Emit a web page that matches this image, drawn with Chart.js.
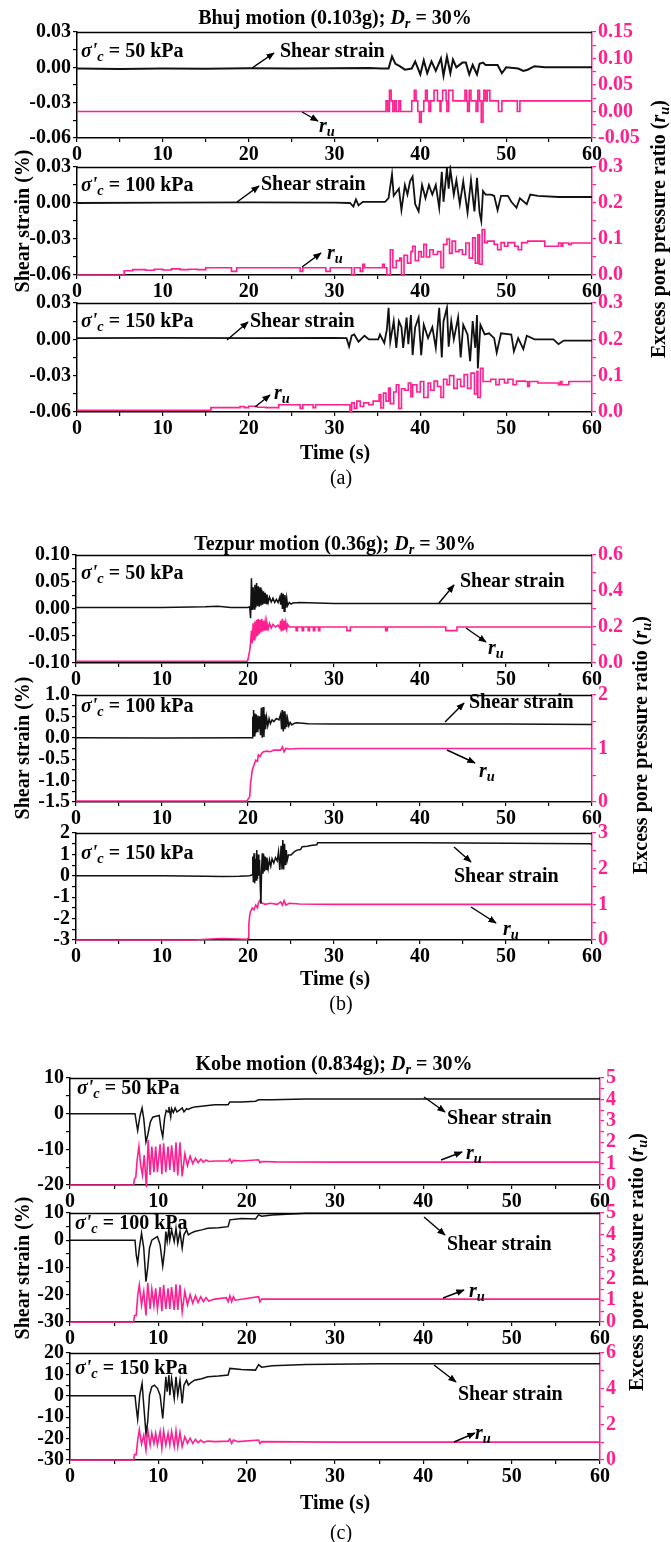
<!DOCTYPE html>
<html><head><meta charset="utf-8">
<script src="https://cdn.jsdelivr.net/npm/chart.js@4.4.0/dist/chart.umd.min.js"></script>
<style>
html,body{margin:0;padding:0;background:#fff;}
#page{position:relative;width:671px;height:1542px;overflow:hidden;background:#fff;font-family:"Liberation Serif","Times New Roman",serif;}
canvas{position:absolute;left:0;z-index:1;}
.t{position:absolute;white-space:nowrap;font-weight:bold;font-size:20px;line-height:1;color:#000;transform:translateY(-50%);z-index:3;}
.c{transform:translate(-50%,-50%);}
.rot{transform:translate(-50%,-50%) rotate(-90deg);}
.n{font-weight:normal;}
i{font-style:italic;}
sub{font-size:0.72em;vertical-align:-0.28em;line-height:0;}
svg{position:absolute;left:0;top:0;z-index:2;}
</style></head>
<body><div id="page"></div>
<script>
// ---------------- DATA (time s, value) ----------------
// (a) Bhuj motion
const bhuj50Strain = [[0,-0.001],[5,-0.0015],[10,-0.001],[15,-0.0012],[20,-0.0008],[25,-0.001],[30,-0.0008],[34,-0.0005],[35.5,-0.001],[36.3,-0.001],[36.7,0.0093],[37.1,0.003],[37.6,0.001],[38.2,-0.002],[39.0,-0.001],[39.4,0.005],[40.0,-0.006],[40.4,0.006],[40.8,-0.005],[41.3,0.005],[41.8,-0.003],[42.4,0.0075],[42.7,-0.007],[43.1,0.009],[43.5,-0.005],[43.8,0.0065],[44.2,0],[44.9,0.004],[45.3,0.004],[45.7,-0.006],[46.1,0.002],[46.6,-0.006],[46.9,0.003],[47.3,0.004],[47.6,0.002],[48.2,0.002],[49.0,0.002],[49.5,-0.005],[50.0,0],[51.4,-0.001],[52.0,-0.003],[52.5,-0.002],[53.3,0.001],[54.5,0],[60,0]];
const bhuj50Ru = [[0,0],[36.0,0.02],[36.2,0],[36.4,0.04],[36.6,0.02],[36.8,0],[37.0,0.02],[37.2,0],[37.5,0.02],[37.7,0],[39.0,0.02],[39.3,0.04],[39.5,0.02],[39.7,0],[39.9,-0.02],[40.1,0],[40.4,0.02],[40.6,0.04],[40.8,0.02],[41.0,0],[41.2,0.02],[41.6,0.04],[42.0,0.02],[42.3,0],[42.4,0.02],[42.6,0.04],[43.0,0.02],[43.1,0],[43.3,0.04],[43.8,0.02],[45.2,0.04],[45.4,0.02],[45.5,0],[45.7,0.04],[45.9,0.02],[46.5,0],[46.7,0.04],[46.9,0.02],[47.1,-0.02],[47.3,0.02],[47.4,0.04],[47.6,0.02],[47.8,0.04],[48.1,0.02],[49.1,0],[49.5,0.02],[51.3,0],[51.6,0.02],[60,0.02]];
const bhuj100Strain = [[0,0],[10,0.0003],[20,0.0005],[30,0.0003],[31.8,0],[32.2,-0.003],[32.5,0.003],[32.8,-0.002],[33.3,0.001],[34.3,0.001],[35.9,0.001],[36.3,0.004],[36.7,0.024],[36.9,0.006],[37.5,0.012],[37.8,-0.006],[38.2,0.015],[38.5,0.007],[38.8,0.018],[39.1,0.022],[39.4,-0.001],[39.8,-0.007],[40.2,0.015],[40.6,0.004],[41.0,0.015],[41.4,0.007],[41.8,0.015],[42.2,-0.004],[42.5,0.026],[42.7,0.001],[43.1,0.029],[43.3,0.012],[43.5,0.028],[43.9,0.007],[44.2,0.019],[44.6,-0.001],[45.0,0.018],[45.5,-0.008],[45.9,0.019],[46.3,-0.007],[46.6,0.021],[46.9,-0.008],[47.1,-0.015],[47.3,0.010],[47.6,0.007],[48.2,0.007],[48.6,0.006],[49.0,-0.006],[49.4,0.006],[50.2,0.006],[50.6,0.001],[51.2,-0.004],[51.6,0.004],[52.4,-0.001],[52.8,0.007],[53.7,0.006],[56.1,0.005],[60,0.005]];
const bhuj100Ru = [[0,0],[5.5,0.012],[6.5,0.015],[8,0.013],[9,0.016],[10,0.014],[11,0.017],[12,0.015],[13,0.016],[14,0.015],[15,0.02],[18,0.01],[18.6,0.02],[26,0.01],[26.3,0.02],[29,0.01],[29.5,0.02],[32,0.0],[32.3,0.02],[33,0.01],[33.3,0.03],[33.5,0.02],[35.6,0.03],[35.8,0.02],[36.1,0],[36.5,0.07],[36.8,0.02],[37.2,0.04],[37.6,0.047],[37.8,0],[38.1,0.055],[38.5,0.033],[38.9,0.065],[39.1,0.08],[39.4,0.04],[39.8,0.065],[40.1,0.05],[40.4,0.085],[40.7,0.05],[41.1,0.07],[41.5,0.057],[42.0,0.065],[42.4,0.02],[42.7,0.085],[43.1,0.1],[43.4,0.06],[43.7,0.094],[44.1,0.065],[44.5,0.07],[44.9,0.057],[45.3,0.089],[45.7,0.047],[46.1,0.103],[46.4,0.033],[46.7,0.112],[46.9,0.03],[47.2,0.126],[47.5,0.09],[47.8,0.094],[48.6,0.085],[49.0,0.07],[49.4,0.09],[49.8,0.08],[50.2,0.09],[51.0,0.08],[51.4,0.07],[51.8,0.09],[52.5,0.094],[54.5,0.08],[56.1,0.089],[56.4,0.08],[56.6,0.089],[57.3,0.085],[57.6,0.089],[60,0.089]];
const bhuj150Strain = [[0,0.001],[10,0.0012],[20,0.001],[30,0.0012],[31.4,0.001],[31.7,-0.006],[32.0,0.003],[32.3,0.004],[32.8,-0.002],[33.5,0.003],[34.0,0],[35.1,0],[35.3,0.004],[35.8,-0.003],[36.1,0.008],[36.3,0.026],[36.5,-0.002],[36.9,0.015],[37.2,-0.007],[37.5,0.015],[37.8,0.01],[38.0,-0.007],[38.4,0.018],[38.6,-0.004],[38.9,0.02],[39.1,-0.013],[39.4,0.01],[39.8,0.018],[40.1,-0.013],[40.4,0.012],[40.9,0.001],[41.4,0.01],[41.8,-0.007],[42.2,0.026],[42.5,-0.015],[42.7,0.015],[43.1,0.026],[43.3,-0.006],[43.6,0.015],[43.9,0],[44.4,0.018],[44.7,-0.015],[45.0,0.012],[45.5,0.004],[45.8,-0.018],[46.1,0.015],[46.4,-0.007],[46.6,0.02],[46.7,-0.024],[47.0,0.012],[47.5,0.004],[48.0,0.005],[48.6,0.001],[48.9,-0.011],[49.4,0.005],[50.6,0.004],[50.9,-0.01],[51.4,0.001],[52.0,-0.008],[52.4,0.003],[53.3,0],[55.5,0],[56.1,-0.004],[56.7,-0.001],[60,-0.001]];
const bhuj150Ru = [[0,0.005],[15.6,0.012],[19,0.015],[19.5,0.012],[20,0.016],[21,0.013],[22,0.012],[23.5,0.02],[26,0.01],[26.3,0.02],[27.5,0.012],[27.8,0.02],[31.8,0],[32.0,0.025],[32.3,0.01],[32.6,0.03],[33,0.015],[33.4,0.025],[34.0,0.02],[34.5,0.03],[35.2,0.048],[35.4,0.011],[35.7,0.052],[36.0,0.03],[36.3,0.066],[36.5,0.023],[36.9,0.055],[37.2,0.075],[37.5,0.01],[37.8,0.064],[38.2,0.06],[38.6,0.08],[38.9,0.042],[39.1,0.075],[39.6,0.055],[40.0,0.084],[40.4,0.04],[40.9,0.08],[41.2,0.06],[41.6,0.085],[42.0,0.07],[42.4,0.04],[42.7,0.09],[43.1,0.075],[43.4,0.1],[43.9,0.065],[44.3,0.09],[44.7,0.07],[45.1,0.103],[45.5,0.065],[45.9,0.107],[46.3,0.05],[46.6,0.112],[46.7,0.04],[47.0,0.12],[47.3,0.084],[48.2,0.09],[48.8,0.075],[49.2,0.09],[49.8,0.08],[50.2,0.09],[50.8,0.075],[51.2,0.085],[52.2,0.084],[52.5,0.07],[52.7,0.084],[53.7,0.08],[56.1,0.075],[56.3,0.084],[56.5,0.075],[57.3,0.084],[60,0.084]];
// (b) Tezpur motion
const tezpur50Strain = [[0,0.003],[5,0.003],[10,0.003],[15,0.004],[16.5,0.005],[18,0.003],[20.0,0.003],[20.2,0.004],[20.3,-0.017],[20.4,0.057],[20.5,-0.002],[20.6,0.04],[20.7,0.0],[20.8,0.045],[20.9,0.003],[21.0,0.048],[21.1,0.005],[21.2,0.042],[21.3,0.004],[21.4,0.04],[21.5,0.006],[21.6,0.036],[21.7,0.008],[21.8,0.033],[21.9,0.01],[22.0,0.03],[22.1,0.01],[22.2,0.027],[22.35,0.012],[22.5,0.022],[22.7,0.013],[22.9,0.02],[23.1,0.012],[23.3,0.018],[23.5,0.012],[23.7,0.022],[23.8,0.008],[23.9,0.03],[24.0,0.0],[24.1,0.028],[24.2,-0.004],[24.3,0.026],[24.4,0.002],[24.5,0.02],[24.6,0.006],[24.8,0.012],[25.0,0.009],[25.2,0.011],[26.0,0.012],[30,0.01],[40,0.01],[50,0.01],[60,0.01]];
const tezpur50Ru = [[0,0.01],[19.9,0.01],[20.0,0.02],[20.2,0.07],[20.3,0.11],[20.4,0.18],[20.5,0.11],[20.6,0.22],[20.7,0.13],[20.8,0.23],[20.9,0.14],[21.0,0.24],[21.1,0.15],[21.2,0.245],[21.3,0.16],[21.4,0.24],[21.5,0.17],[21.6,0.245],[21.7,0.175],[21.8,0.235],[21.9,0.18],[22.0,0.23],[22.1,0.185],[22.2,0.225],[22.35,0.19],[22.5,0.22],[22.7,0.195],[22.9,0.215],[23.2,0.2],[23.5,0.21],[23.7,0.195],[23.8,0.235],[23.9,0.175],[24.0,0.245],[24.1,0.18],[24.2,0.235],[24.3,0.185],[24.4,0.225],[24.5,0.19],[24.6,0.215],[24.8,0.2],[25.6,0.2],[25.6,0.18],[25.75,0.18],[25.75,0.2],[26.3,0.2],[26.3,0.18],[26.45,0.18],[26.45,0.2],[27.0,0.2],[27.0,0.18],[27.15,0.18],[27.15,0.2],[27.6,0.2],[27.6,0.18],[27.75,0.18],[27.75,0.2],[28.2,0.2],[28.2,0.18],[28.35,0.18],[28.35,0.2],[31.5,0.2],[31.5,0.18],[31.9,0.18],[31.9,0.2],[36.0,0.2],[36.0,0.18],[36.2,0.18],[36.2,0.2],[43.0,0.2],[43.0,0.18],[44.3,0.18],[44.3,0.2],[60,0.2]];
const tezpur100Strain = [[0,0],[10,-0.005],[20.0,0],[20.5,0.0],[20.55,0.5],[20.6,0.1],[20.65,0.65],[20.72,0.05],[20.8,0.57],[20.88,0.1],[20.95,0.55],[21.05,0.15],[21.15,0.52],[21.25,0.2],[21.35,0.5],[21.45,0.06],[21.55,0.7],[21.65,0.0],[21.75,0.72],[21.85,0.02],[21.95,0.55],[22.05,0.2],[22.15,0.48],[22.3,0.28],[22.45,0.45],[22.6,0.33],[22.8,0.42],[23.0,0.38],[23.3,0.45],[23.6,0.42],[23.8,0.55],[23.9,0.2],[24.0,0.65],[24.1,0.15],[24.2,0.62],[24.3,0.2],[24.4,0.55],[24.5,0.25],[24.6,0.45],[24.75,0.28],[24.9,0.36],[25.1,0.3],[25.4,0.34],[25.7,0.35],[27,0.33],[30,0.32],[40,0.32],[50,0.32],[60,0.31]];
const tezpur100Ru = [[0,0.02],[19.9,0.02],[20.0,0.05],[20.2,0.1],[20.3,0.35],[20.5,0.6],[20.7,0.69],[20.9,0.78],[21.1,0.76],[21.2,0.88],[21.4,0.85],[21.6,0.91],[21.8,0.94],[22.2,0.95],[22.6,0.94],[23.0,0.97],[23.8,0.97],[24.0,1.03],[24.2,0.94],[24.4,1.0],[24.8,0.99],[26,1.0],[30,1.0],[40,1.0],[50,1.0],[60,1.0]];
const tezpur150Strain = [[0,0],[10,0],[15,-0.02],[17,-0.03],[19,-0.02],[20.2,0],[20.5,0.05],[20.55,0.9],[20.62,-0.3],[20.7,1.05],[20.78,-0.35],[20.86,0.8],[20.94,-0.2],[21.02,1.2],[21.1,-0.15],[21.18,1.0],[21.26,0.0],[21.34,0.75],[21.42,-0.4],[21.5,-1.3],[21.58,0.3],[21.66,1.05],[21.74,0.1],[21.82,1.0],[21.9,0.2],[22.0,0.9],[22.1,0.3],[22.2,0.85],[22.35,0.35],[22.5,0.75],[22.65,0.45],[22.8,0.8],[23.0,0.6],[23.2,0.85],[23.4,0.7],[23.55,1.13],[23.7,0.27],[23.85,1.4],[23.95,0.3],[24.05,1.67],[24.15,0.3],[24.25,1.5],[24.35,0.5],[24.45,1.2],[24.55,0.7],[24.7,0.97],[25.0,0.97],[25.4,1.13],[25.7,1.2],[26.1,1.23],[26.3,1.36],[26.9,1.38],[27.3,1.42],[28.0,1.45],[28.1,1.55],[30.7,1.55],[40,1.54],[50,1.52],[59.8,1.5],[60,1.45]];
const tezpur150Ru = [[0,0],[14,0],[15,0.02],[17,0.04],[19,0.03],[19.9,0.02],[20.0,0.05],[20.1,0.45],[20.2,0.7],[20.3,0.8],[20.5,0.9],[20.7,0.85],[20.9,0.98],[21.1,0.9],[21.2,1.03],[21.4,1.12],[21.6,1.04],[22.0,1.0],[22.6,1.03],[23.4,1.0],[23.8,1.07],[24.0,0.98],[24.2,1.1],[24.4,0.98],[24.8,1.03],[26,1.01],[30,1.0],[40,1.0],[50,1.0],[60,1.0]];
// (c) Kobe motion
const kobe50Strain = [[0,0],[7.36,0],[7.5,-2.3],[7.66,-4.7],[7.9,-0.9],[8.16,1.6],[8.35,-1.4],[8.6,-7.9],[8.8,-6],[9.1,-2.3],[9.37,-1],[9.75,-0.7],[10.1,-0.5],[10.3,-4.2],[10.5,-6.5],[10.7,-1.4],[10.9,0.9],[11.1,0.5],[11.2,1.9],[11.4,-0.9],[11.5,1.4],[11.7,0.3],[11.9,1.6],[12.1,0.5],[12.4,1.0],[12.7,1.6],[12.9,0.5],[13.2,1.4],[13.4,1.2],[13.7,1.6],[14.1,1.9],[14.9,2.1],[15.6,2.3],[16.4,2.5],[17.9,2.5],[18.1,3.3],[19.4,3.3],[21.0,3.5],[21.35,3.9],[22.9,3.9],[26.7,4.1],[40,4.1],[50,4.1],[60,4.1]];
const kobe50Ru = [[0,0],[7.2,0],[7.3,0.3],[7.45,0.35],[7.6,1.17],[7.8,1.8],[8.0,0.93],[8.2,0.47],[8.4,1.4],[8.65,-0.1],[8.85,2.1],[9.07,0.47],[9.26,1.8],[9.5,0.6],[9.7,1.8],[9.9,0.6],[10.2,1.9],[10.4,0.5],[10.6,1.95],[10.85,0.6],[11.1,1.8],[11.3,0.7],[11.5,1.85],[11.8,0.6],[12.0,2.0],[12.2,0.45],[12.45,2.0],[12.7,0.4],[13.0,1.45],[13.3,0.9],[13.6,1.35],[13.9,1.0],[14.2,1.25],[14.5,1.05],[14.8,1.2],[15.1,1.07],[15.4,1.17],[15.7,1.1],[16.4,1.12],[17.9,1.12],[18.1,1.22],[18.3,1.03],[18.5,1.15],[19.4,1.12],[21.35,1.18],[21.5,1.04],[21.7,1.1],[23.3,1.08],[30,1.07],[40,1.07],[50,1.07],[60,1.07]];
const kobe100Strain = [[0,0],[7.36,0],[7.5,-5.4],[7.66,-8.4],[7.85,-2.9],[8.1,2.6],[8.35,-2.9],[8.6,-15.2],[8.8,-10],[9.0,-2.9],[9.26,0],[9.56,0.7],[9.9,1.3],[10.2,-1.7],[10.5,-9.5],[10.7,-4.2],[10.85,3.2],[11.0,-0.5],[11.2,4.4],[11.3,0.1],[11.5,3.8],[11.8,-0.5],[12.0,4.4],[12.2,-1.1],[12.45,3.2],[12.7,-2.9],[12.9,2.0],[13.2,3.8],[13.4,2.0],[13.7,2.6],[14.1,3.2],[14.9,3.8],[15.6,4.4],[16.8,4.6],[17.9,5.0],[18.1,7.5],[19.4,8.0],[21.0,7.8],[21.35,9.3],[21.7,8.8],[22.9,9.3],[26.7,9.9],[40,9.9],[50,9.9],[60,9.9]];
const kobe100Ru = [[0,0],[7.2,0],[7.3,0.3],[7.5,0.3],[7.66,1.2],[7.85,1.7],[8.1,0.78],[8.35,1.4],[8.6,0.3],[8.8,1.8],[9.07,0.6],[9.26,1.5],[9.5,0.75],[9.7,1.55],[9.9,0.6],[10.2,1.6],[10.4,0.5],[10.6,1.7],[10.85,0.6],[11.1,1.55],[11.3,0.6],[11.5,1.6],[11.8,0.55],[12.0,1.73],[12.2,0.55],[12.45,1.7],[12.7,0.47],[13.0,1.4],[13.3,0.78],[13.6,1.25],[13.9,0.86],[14.2,1.2],[14.5,0.9],[14.8,1.16],[15.1,0.93],[15.4,1.12],[15.7,0.96],[16.4,1.05],[17.7,1.12],[17.9,0.93],[18.1,1.2],[18.3,0.93],[18.5,1.16],[18.7,1.0],[21.35,1.16],[21.5,0.93],[21.7,1.05],[30,1.05],[40,1.05],[50,1.05],[60,1.05]];
const kobe150Strain = [[0,0],[7.36,0],[7.5,-5.5],[7.66,-11],[7.9,0.3],[8.16,5.8],[8.35,-4.4],[8.6,-17.6],[8.8,-12],[9.0,0.3],[9.26,4.2],[9.56,5.0],[9.9,3.5],[10.2,0.3],[10.5,-10.6],[10.7,0.3],[10.85,8.9],[11.0,1.9],[11.2,9.7],[11.3,0.3],[11.5,8.1],[11.8,-1.2],[12.0,8.9],[12.2,0.3],[12.45,7.3],[12.7,-3.6],[12.9,5.0],[13.2,7.3],[13.4,5.0],[13.7,6.2],[14.1,7.3],[14.9,8.0],[15.6,8.9],[16.8,9.2],[17.9,9.7],[18.1,12.8],[19.4,12.3],[21.0,12.0],[21.35,14.6],[21.7,13.4],[22.9,14.0],[26.7,14.6],[35,15],[45,15],[60,15]];
const kobe150Ru = [[0,0],[7.2,0],[7.3,0.3],[7.5,0.3],[7.66,1.1],[7.85,1.7],[8.1,0.9],[8.35,1.4],[8.6,0.56],[8.8,1.7],[9.07,0.84],[9.26,1.5],[9.5,0.93],[9.7,1.5],[9.9,0.84],[10.2,1.6],[10.4,0.65],[10.6,1.63],[10.85,0.84],[11.1,1.5],[11.3,0.84],[11.5,1.6],[11.8,0.75],[12.0,1.63],[12.2,0.75],[12.45,1.55],[12.7,0.75],[13.0,1.3],[13.3,0.93],[13.6,1.22],[13.9,0.93],[14.2,1.16],[14.5,0.97],[14.8,1.12],[15.1,0.99],[15.6,1.06],[16.4,1.03],[17.9,1.06],[18.1,1.18],[18.3,0.93],[18.5,1.12],[19,1.03],[21.35,1.12],[21.5,0.92],[21.7,1.03],[30,1.0],[40,1.0],[50,1.0],[60,1.0]];

// ---------------- LAYOUT ----------------
const PINK = '#ff1f8f';
const FONT = '"Liberation Serif", "Times New Roman", serif';
const W = 671, PADT = 14, XH = 30;
const A = {left:77, right:592}, B = {left:76, right:592}, C = {left:70, right:600};
const panels = [
 {g:A, top:32,  bottom:138, strain:bhuj50Strain,  ru:bhuj50Ru,  y:[-0.06,0.03,0.03,2], r:[-0.05,0.15,0.05,2], stepped:true,  lw:2},
 {g:A, top:167, bottom:275, strain:bhuj100Strain, ru:bhuj100Ru, y:[-0.06,0.03,0.03,2], r:[0,0.3,0.1,1], stepped:true, lw:1.8},
 {g:A, top:303, bottom:412, strain:bhuj150Strain, ru:bhuj150Ru, y:[-0.06,0.03,0.03,2], r:[0,0.3,0.1,1], stepped:true, lw:1.8},
 {g:B, top:555, bottom:663, strain:tezpur50Strain,  ru:tezpur50Ru,  y:[-0.10,0.10,0.05,2], r:[0,0.6,0.2,1], stepped:false, lw:1.5},
 {g:B, top:695, bottom:802, strain:tezpur100Strain, ru:tezpur100Ru, y:[-1.5,1.0,0.5,1], r:[0,2,1,0], stepped:false, lw:1.5},
 {g:B, top:833, bottom:940, strain:tezpur150Strain, ru:tezpur150Ru, y:[-3,2,1,0], r:[0,3,1,0], stepped:false, lw:1.5},
 {g:C, top:1078, bottom:1185, strain:kobe50Strain,  ru:kobe50Ru,  y:[-20,10,10,0], r:[0,5,1,0], stepped:false, lw:1.5},
 {g:C, top:1213, bottom:1322, strain:kobe100Strain, ru:kobe100Ru, y:[-30,10,10,0], r:[0,5,1,0], stepped:false, lw:1.5},
 {g:C, top:1353, bottom:1460, strain:kobe150Strain, ru:kobe150Ru, y:[-30,20,10,0], r:[0,6,2,0], stepped:false, lw:1.5}
];

function majorLabel(step, dec){
  return v => {
    const k = v / step;
    if (Math.abs(k - Math.round(k)) > 1e-6) return '';
    const x = Math.abs(v) < 1e-9 ? 0 : v;
    return x.toFixed(dec);
  };
}
const frame = {id:'frame', afterDraw(c){const a=c.chartArea, ctx=c.ctx; ctx.save(); ctx.strokeStyle='#000'; ctx.lineWidth=1.5; ctx.beginPath(); ctx.moveTo(a.left, a.top+0.5); ctx.lineTo(a.right, a.top+0.5); ctx.stroke(); ctx.restore();}};
const tickFont = {family:FONT, size:20, weight:'bold'};

const page = document.getElementById('page');
panels.forEach(p => {
  const cv = document.createElement('canvas');
  const h = PADT + (p.bottom - p.top) + XH;
  cv.width = W; cv.height = h;
  cv.style.top = (p.top - PADT) + 'px';
  cv.style.width = W + 'px'; cv.style.height = h + 'px';
  page.appendChild(cv);
  const L = p.g.left, R = p.g.right;
  new Chart(cv, {
    type:'line',
    data:{datasets:[
      {data:p.strain, yAxisID:'y', borderColor:'#111', borderWidth:p.lw, pointRadius:0, tension:0, clip:{left:0,right:0,top:2,bottom:2}},
      {data:p.ru, yAxisID:'y1', borderColor:PINK, borderWidth:1.6, pointRadius:0, tension:0, stepped:p.stepped, clip:{left:0,right:0,top:2,bottom:3}}
    ]},
    plugins:[frame],
    options:{
      responsive:false, animation:false, devicePixelRatio:1,
      layout:{padding:{top:PADT, left:0, right:0, bottom:0}},
      plugins:{legend:{display:false}, tooltip:{enabled:false}},
      scales:{
        x:{type:'linear', min:0, max:60, afterFit:s=>{s.height=XH;},
           ticks:{stepSize:5, autoSkip:false, maxRotation:0, color:'#000', font:tickFont, padding:1,
                  callback:v => (Math.abs(v%10)<1e-9 ? String(v) : '')},
           grid:{drawOnChartArea:false, color:'#000', tickLength:4, lineWidth:1.2},
           border:{color:'#000', width:1.5}},
        y:{type:'linear', position:'left', min:p.y[0], max:p.y[1], afterFit:s=>{s.width=L;},
           ticks:{stepSize:p.y[2]/2, autoSkip:false, color:'#000', font:tickFont, padding:2, callback:majorLabel(p.y[2], p.y[3])},
           grid:{drawOnChartArea:false, color:'#000', tickLength:4, lineWidth:1.2},
           border:{color:'#000', width:1.5}},
        y1:{type:'linear', position:'right', min:p.r[0], max:p.r[1], afterFit:s=>{s.width=W-R;},
           ticks:{stepSize:p.r[2]/2, autoSkip:false, color:PINK, font:tickFont, padding:2, callback:majorLabel(p.r[2], p.r[3])},
           grid:{drawOnChartArea:false, color:PINK, tickLength:4, lineWidth:1.2},
           border:{color:PINK, width:1.5}}
      }
    }
  });
});

// ---------------- TEXT ----------------
const SIG = v => `<i>σ'</i><sub><i>c</i></sub> = ${v} kPa`;
const RU = `<i>r</i><sub><i>u</i></sub>`;
const texts = [
 ['c', 335, 17,  `Bhuj motion (0.103g); <i>D</i><sub><i>r</i></sub> = 30%`],
 ['c', 335, 543, `Tezpur motion (0.36g); <i>D</i><sub><i>r</i></sub> = 30%`],
 ['c', 334, 1063,`Kobe motion (0.834g); <i>D</i><sub><i>r</i></sub> = 30%`],
 ['l', 81, 50, SIG(50)], ['l', 280, 50, 'Shear strain'], ['l', 319, 125, RU],
 ['l', 81, 184, SIG(100)], ['l', 261, 183, 'Shear strain'], ['l', 327, 252, RU],
 ['l', 81, 320, SIG(150)], ['l', 250, 320, 'Shear strain'], ['l', 274, 392, RU],
 ['l', 81, 572, SIG(50)], ['l', 460, 580, 'Shear strain'], ['l', 488, 647, RU],
 ['l', 81, 705, SIG(100)], ['l', 469, 701, 'Shear strain'], ['l', 479, 770, RU],
 ['l', 81, 852, SIG(150)], ['l', 454, 875, 'Shear strain'], ['l', 503, 928, RU],
 ['l', 77, 1087, SIG(50)], ['l', 447, 1117, 'Shear strain'], ['l', 466, 1152, RU],
 ['l', 75, 1222, SIG(100)], ['l', 447, 1243, 'Shear strain'], ['l', 469, 1290, RU],
 ['l', 75, 1367, SIG(150)], ['l', 458, 1393, 'Shear strain'], ['l', 475, 1432, RU],
 ['c', 335, 452, 'Time (s)'], ['c', 335, 978, 'Time (s)'], ['c', 335, 1502, 'Time (s)'],
 ['cn', 341, 477, '(a)'], ['cn', 341, 1003, '(b)'], ['cn', 341, 1532, '(c)'],
 ['r', 22, 221, 'Shear strain (%)'], ['r', 22, 748, 'Shear strain (%)'], ['r', 22, 1268, 'Shear strain (%)'],
 ['r', 658, 229, `Excess pore pressure ratio (${RU})`], ['r', 640, 745, `Excess pore pressure ratio (${RU})`], ['r', 636, 1262, `Excess pore pressure ratio (${RU})`]
];
texts.forEach(([k,x,y,html]) => {
  const d = document.createElement('div');
  d.className = 't' + (k==='c'?' c':k==='cn'?' c n':k==='r'?' rot':'');
  d.style.left = x + 'px'; d.style.top = y + 'px';
  d.innerHTML = html;
  page.appendChild(d);
});

// ---------------- ARROWS ----------------
const arrows = [
 [252,68,274,53],[302,112,318,121],
 [237,202,259,186],[302,267,321,253],
 [227,340,248,322],[255,407,270,395],
 [439,603,454,585],[466,628,486,642],
 [445,722,464,703],[447,750,475,763],
 [454,847,471,862],[471,907,496,923],
 [424,1097,445,1112],[441,1160,462,1152],
 [424,1217,445,1235],[443,1298,464,1290],
 [434,1365,456,1382],[454,1442,475,1433]
];
let svg = `<svg width="671" height="1542" xmlns="http://www.w3.org/2000/svg"><defs><marker id="ah" viewBox="0 0 10 10" refX="9" refY="5" markerWidth="6" markerHeight="6" orient="auto"><path d="M0,1 L10,5 L0,9 z" fill="#000"/></marker></defs>`;
arrows.forEach(([x1,y1,x2,y2]) => { svg += `<line x1="${x1}" y1="${y1}" x2="${x2}" y2="${y2}" stroke="#000" stroke-width="1.4" marker-end="url(#ah)"/>`; });
svg += `</svg>`;
page.insertAdjacentHTML('beforeend', svg);
</script>
</body></html>
